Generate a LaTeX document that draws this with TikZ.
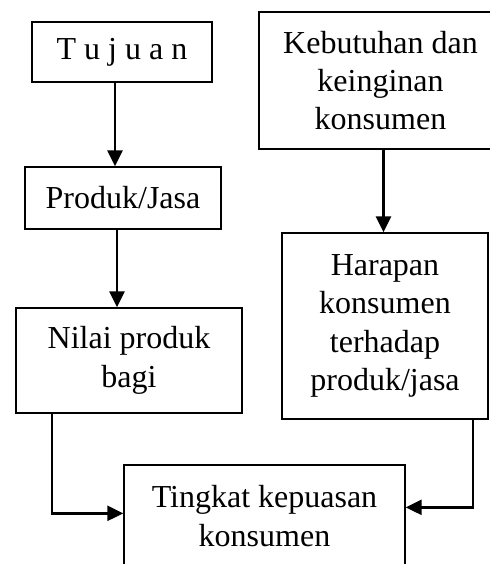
\documentclass[tikz,border=0pt]{standalone}
\usepackage{fontspec}
\setmainfont{Liberation Serif}
\usetikzlibrary{arrows.meta}
\newcommand\pxu{0.375pt}

\begin{document}
\begin{tikzpicture}[x=0.375pt,y=-0.375pt,
  kotak/.style={draw,line width=0.5pt,align=center,inner sep=0pt,
    font=\fontsize{12}{14.4}\selectfont},
  panah/.style={line width=1pt,-{Triangle[length=6pt,width=5.6pt]}}]
\useasboundingbox (0,0) rectangle (490,564);
\node[kotak,minimum width=180*\pxu,minimum height=60*\pxu] (tujuan) at (122,52) {T u j u a n};
\node[kotak,minimum width=196*\pxu,minimum height=62*\pxu] (produk) at (123,198) {Produk/Jasa};
\node[kotak,minimum width=226*\pxu,minimum height=105*\pxu] (nilai) at (129,360.5) {Nilai produk\\bagi};
\node[kotak,minimum width=243*\pxu,minimum height=137*\pxu] (kebutuhan) at (380.5,80.5) {Kebutuhan dan\\keinginan\\konsumen};
\node[kotak,minimum width=206*\pxu,minimum height=186*\pxu] (harapan) at (385,326) {Harapan\\konsumen\\terhadap\\produk/jasa};
\node[kotak,minimum width=281*\pxu,minimum height=102*\pxu] (tingkat) at (264.5,516) {Tingkat kepuasan\\konsumen};
\draw[panah] ([xshift=-7*\pxu]tujuan.south) -- ([xshift=-7*\pxu]tujuan.south |- produk.north);
\draw[panah] ([xshift=-6*\pxu]produk.south) -- ([xshift=-6*\pxu]produk.south |- nilai.north);
\draw[panah] ([xshift=3*\pxu]kebutuhan.south) -- ([xshift=3*\pxu]kebutuhan.south |- harapan.north);
\draw[panah] ([xshift=-77*\pxu]nilai.south) |- ([yshift=-49*\pxu]tingkat.north west);
\draw[panah] ([xshift=88*\pxu]harapan.south) |- ([yshift=-43*\pxu]tingkat.north east);
\end{tikzpicture}
\end{document}
